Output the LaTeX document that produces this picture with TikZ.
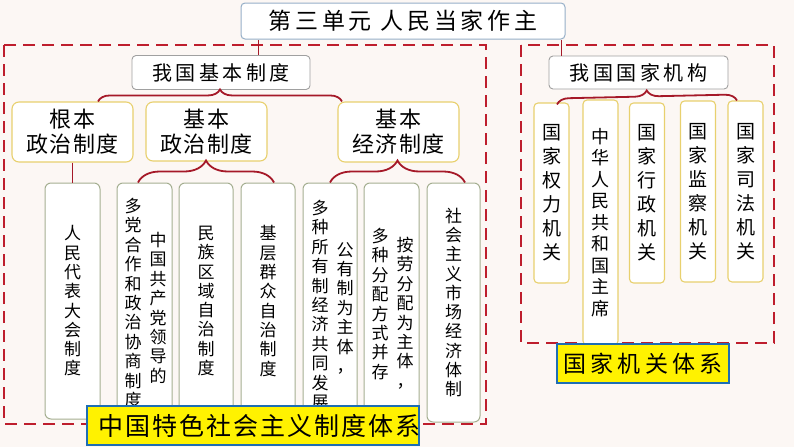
\documentclass[tikz,border=0pt]{standalone}
\usepackage{fontspec}
\newfontfamily\cjk{Noto Sans CJK SC}
\usetikzlibrary{positioning, fit, calc, decorations.pathreplacing}
\definecolor{frameRed}{RGB}{190,30,45}
\definecolor{linkRed}{RGB}{165,25,40}
\definecolor{titleLine}{RGB}{150,175,200}
\definecolor{grayLine}{RGB}{160,160,160}
\definecolor{yellowLine}{RGB}{232,208,110}
\definecolor{oliveLine}{RGB}{165,175,145}
\definecolor{labelBlue}{RGB}{30,110,180}
\definecolor{paper}{RGB}{252,247,244}
\tikzset{
	heading/.style={
		draw=titleLine,
		fill=white,
		line width=1pt,
		rounded corners=4pt,
		inner sep=0pt,
		font=\cjk\fontsize{23}{25}\selectfont\addfontfeature{LetterSpace=16}
	},
	root/.style={
		draw=grayLine,
		fill=white,
		line width=0.9pt,
		rounded corners=4pt,
		inner sep=0pt,
		minimum height=34,
		font=\cjk\fontsize{20}{22}\selectfont\addfontfeature{LetterSpace=18}
	},
	branch/.style={
		draw=yellowLine,
		fill=white,
		line width=1.1pt,
		rounded corners=7pt,
		inner sep=0pt,
		align=center,
		minimum width=121,
		minimum height=60,
		font=\cjk\fontsize{22}{25}\selectfont\addfontfeature{LetterSpace=6}
	},
	leaf/.style={
		draw=oliveLine,
		fill=white,
		line width=1pt,
		rounded corners=6pt,
		inner sep=0pt,
		align=center,
		minimum width=55,
		minimum height=236,
		font=\cjk\fontsize{17}{19.3}\selectfont
	},
	organ/.style={
		draw=yellowLine,
		fill=white,
		line width=1.1pt,
		rounded corners=4pt,
		inner sep=0pt,
		align=center,
		minimum width=35,
		font=\cjk\fontsize{19}{24}\selectfont
	},
	column/.style={
		anchor=north,
		inner sep=0pt,
		align=center,
		font=\cjk\fontsize{17}{19.4}\selectfont
	},
	tag/.style={
		draw=labelBlue,
		fill=yellow,
		line width=1.8pt,
		inner sep=0pt,
		minimum height=39
	},
	frame/.style={
		draw=frameRed,
		line width=2.4pt,
		dash pattern=on 12pt off 7pt
	},
	link/.style={
		draw=linkRed,
		line width=1.8pt
	},
	bracket/.style={
		draw=linkRed,
		line width=1.8pt,
		decorate,
		decoration={brace, amplitude=#1}
	},
}

\begin{document}
\begin{tikzpicture}[x=1pt, y=-1pt]
	% page
	\fill[paper] (0,0) rectangle (794,447);
	\useasboundingbox (0,0) rectangle (794,447);

	% dashed group frames
	\draw[frame] (4,45) rectangle (486,424);
	\draw[frame] (521,45) rectangle (774,343);

	% unit title
	\node[heading, minimum width=324, minimum height=36] (unit) at (403,21) {第三单元 人民当家作主};

	% basic systems
	\node[root, minimum width=178] (jbzd) at (221,72.5) {我国基本制度};
	\node[branch] (gbzz) at (72.5,132) {根本\\政治制度};
	\node[branch, minimum height=59] (zzzd) at (206.5,131.5) {基本\\政治制度};
	\node[branch] (jjzd) at (398.5,132) {基本\\经济制度};

	\node[leaf] (rmdb) at (72.5,301) {人\\民\\代\\表\\大\\会\\制\\度};
	\node[leaf] (dzhz) at (144.5,301) {};
	\node[column] (dzhzA) at (133,198) {多\\党\\合\\作\\和\\政\\治\\协\\商\\制\\度};
	\node[column] (dzhzB) at (158,232) {中\\国\\共\\产\\党\\领\\导\\的};
	\node[leaf, minimum width=54] (mzqy) at (206,301) {民\\族\\区\\域\\自\\治\\制\\度};
	\node[leaf, minimum width=54] (jcqz) at (268,301) {基\\层\\群\\众\\自\\治\\制\\度};
	\node[leaf, minimum width=54] (dzsy) at (330,301) {};
	\node[column] (dzsyA) at (320,200) {多\\种\\所\\有\\制\\经\\济\\共\\同\\发\\展};
	\node[column] (dzsyB) at (345,242) {公\\有\\制\\为\\主\\体\\，};
	\node[leaf] (ald) at (391.5,301) {};
	\node[column] (aldA) at (380,228) {多\\种\\分\\配\\方\\式\\并\\存};
	\node[column] (aldB) at (405,237) {按\\劳\\分\\配\\为\\主\\体\\，};
	\node[leaf, minimum width=53, minimum height=239] (sczj) at (453.5,302.5) {社\\会\\主\\义\\市\\场\\经\\济\\体\\制};

	% state organs
	\node[root, minimum width=179, minimum height=33] (gjjg) at (638.5,72.5) {我国国家机构};
	\node[organ, minimum height=180] (qlj) at (551.5,193) {国\\家\\权\\力\\机\\关};
	\node[organ, minimum height=245, font=\cjk\fontsize{18}{21.5}\selectfont] (zx) at (600.5,222.5) {中\\华\\人\\民\\共\\和\\国\\主\\席};
	\node[organ, minimum height=180] (xzj) at (647,193) {国\\家\\行\\政\\机\\关};
	\node[organ, minimum height=181] (jcj) at (698,191.5) {国\\家\\监\\察\\机\\关};
	\node[organ, minimum height=181] (sfj) at (745.5,191.5) {国\\家\\司\\法\\机\\关};

	% connectors
	\coordinate (t1) at ($(jbzd.north west)+(127,0)$);
	\coordinate (t2) at ($(gjjg.north west)+(13,0)$);
	\draw[link] (t1) -- (t1 |- unit.south);
	\draw[link] (t2) -- (t2 |- unit.south);
	\draw[bracket=12pt] ($(gbzz.north)+(25.5,0)$) -- ($(jjzd.north)+(-56.5,0)$);
	\draw[link] (gbzz) -- (rmdb);
	\draw[bracket=22pt] ($(dzhz.north)+(-6.5,0)$) -- ($(jcqz.north)+(6,0)$);
	\draw[bracket=22pt] (dzsy.north) -- ($(sczj.north)+(11.5,0)$);
	\draw[bracket=12pt] ($(qlj.north)+(5.5,2)$) -- ($(sfj.north)+(-8.5,0)$);

	% system labels
	\node[tag, minimum width=332] (zgts) at (253,425.5) {\cjk\fontsize{25}{27}\selectfont\addfontfeature{LetterSpace=8}\makebox[310pt][l]{中国特色社会主义制度体系}};
	\node[tag, minimum width=172] (jgtx) at (643,363.5) {\cjk\fontsize{23}{25}\selectfont\addfontfeature{LetterSpace=18}国家机关体系};
\end{tikzpicture}
\end{document}
